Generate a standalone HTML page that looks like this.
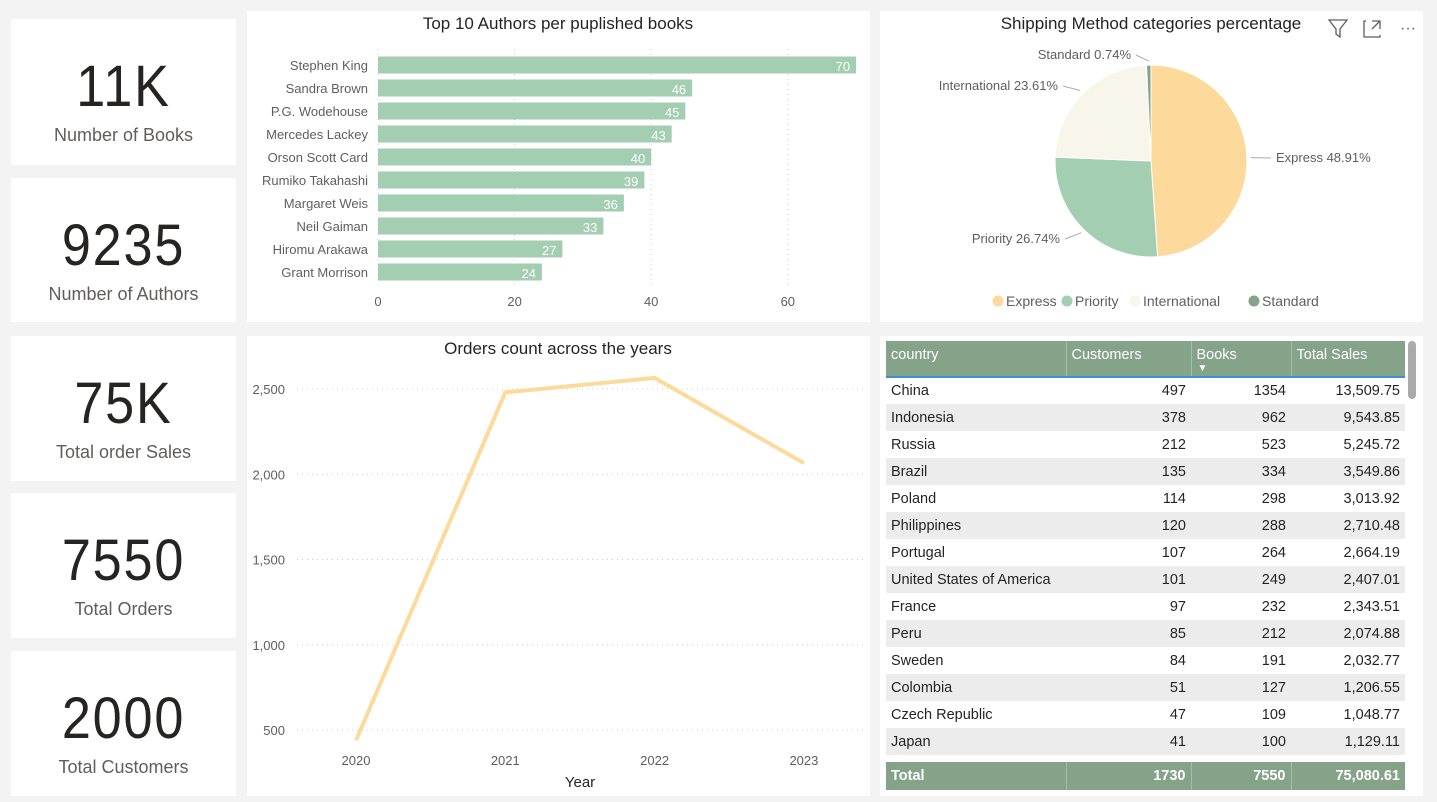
<!DOCTYPE html>
<html><head><meta charset="utf-8">
<style>
body{margin:0;width:1437px;height:802px;background:#f3f3f3;font-family:"Liberation Sans",sans-serif;overflow:hidden;position:relative}
.p{position:absolute;background:#fff}
.kpi .v{position:absolute;left:0;right:0;text-align:center;font-size:58px;color:#252423;letter-spacing:2px;transform:scaleX(0.9)}
.kpi .l{position:absolute;left:0;right:0;text-align:center;font-size:18px;color:#605e5c}
svg text{font-family:"Liberation Sans",sans-serif}
table{border-collapse:collapse;font-size:14.5px;color:#252423;table-layout:fixed}
td,th{overflow:hidden;white-space:nowrap}
</style></head><body>
<div class="p kpi" style="left:11px;top:19px;width:225px;height:146px"><div class="v" style="top:34px">11K</div><div class="l" style="top:106px">Number of Books</div></div>
<div class="p kpi" style="left:11px;top:178px;width:225px;height:144px"><div class="v" style="top:34px">9235</div><div class="l" style="top:106px">Number of Authors</div></div>
<div class="p kpi" style="left:11px;top:336px;width:225px;height:145px"><div class="v" style="top:34px">75K</div><div class="l" style="top:106px">Total order Sales</div></div>
<div class="p kpi" style="left:11px;top:493px;width:225px;height:145px"><div class="v" style="top:34px">7550</div><div class="l" style="top:106px">Total Orders</div></div>
<div class="p kpi" style="left:11px;top:651px;width:225px;height:145px"><div class="v" style="top:34px">2000</div><div class="l" style="top:106px">Total Customers</div></div>

<svg class="p" style="left:247px;top:11px" width="623" height="311" id="bar">
<text x="311" y="18" text-anchor="middle" font-size="17" fill="#252423">Top 10 Authors per puplished books</text>
</svg>
<svg class="p" style="left:880px;top:11px" width="543" height="311" id="pie">
<text x="271" y="18" text-anchor="middle" font-size="17" fill="#252423">Shipping Method categories percentage</text>
<g stroke="#605e5c" fill="none" stroke-width="1.3"><path d="M449 9h18l-7 9v8l-4-3v-5z"/><path d="M486 10h-2v16h16v-2M492 10h8v8M500 10l-8 8"/></g>
<text x="528" y="22" text-anchor="middle" font-size="16" fill="#605e5c">···</text>
</svg>
<svg class="p" style="left:247px;top:336px" width="623" height="460" id="line">
<text x="311" y="18" text-anchor="middle" font-size="17" fill="#252423">Orders count across the years</text>
<text x="333" y="451" text-anchor="middle" font-size="15" fill="#252423">Year</text>
</svg>

<div class="p" style="left:880px;top:336px;width:543px;height:460px">
<table id="tbl" style="position:absolute;left:6px;top:5px;width:519px">
<colgroup><col style="width:180px"><col style="width:125px"><col style="width:100px"><col style="width:114px"></colgroup>
<thead><tr style="background:#85a389;color:#fff;height:36px;vertical-align:top;border-bottom:2px solid #3d8fd6">
<th style="text-align:left;font-weight:normal;padding:6px 5px;border-right:1px solid #a5bfa8">country</th>
<th style="text-align:left;font-weight:normal;padding:6px 5px;border-right:1px solid #a5bfa8">Customers</th>
<th style="text-align:left;font-weight:normal;padding:6px 5px;border-right:1px solid #a5bfa8;position:relative">Books<span style="position:absolute;left:6px;top:22px;font-size:10px">▼</span></th>
<th style="text-align:left;font-weight:normal;padding:6px 5px">Total Sales</th></tr></thead>
<tbody id="tb"></tbody>
<tfoot><tr style="height:7px"><td colspan="4" style="padding:0"></td></tr><tr style="background:#85a389;color:#fff;font-weight:bold;height:28px">
<td style="padding:0 5px;border-right:1px solid #a5bfa8">Total</td><td style="text-align:right;padding:0 5px;border-right:1px solid #a5bfa8">1730</td><td style="text-align:right;padding:0 5px;border-right:1px solid #a5bfa8">7550</td><td style="text-align:right;padding:0 5px">75,080.61</td></tr></tfoot>
</table>
<div style="position:absolute;left:528px;top:5px;width:8px;height:58px;background:#aaa;border-radius:4px"></div>
</div>

<script>
const NS="http://www.w3.org/2000/svg";
function mk(p,t,a,txt){const e=document.createElementNS(NS,t);for(const k in a)e.setAttribute(k,a[k]);if(txt!==undefined)e.textContent=txt;p.appendChild(e);return e;}
// bar data
const authors=["Stephen King","Sandra Brown","P.G. Wodehouse","Mercedes Lackey","Orson Scott Card","Rumiko Takahashi","Margaret Weis","Neil Gaiman","Hiromu Arakawa","Grant Morrison"];
const books=[70,46,45,43,40,39,36,33,27,24];
const barTicks=[0,20,40,60];
const bar=document.getElementById('bar');
const bx=v=>131+v*6.83, by=i=>54+i*23;
barTicks.forEach(t=>{
 const l=mk(bar,'line',{x1:bx(t),x2:bx(t),y1:38,y2:275,stroke:'#ccc','stroke-dasharray':'1 4'});
 
 
 const tx=mk(bar,'text',{x:bx(t),y:295,'text-anchor':'middle','font-size':13,fill:'#605e5c'},t);
 
 
});
authors.forEach((a,i)=>{
 const lb=mk(bar,'text',{x:121,y:by(i)+5,'text-anchor':'end','font-size':13,fill:'#605e5c'},a);
 
 
 const r=mk(bar,'rect',{x:bx(0),y:by(i)-8.5,width:bx(books[i])-bx(0),height:17,fill:'#a3ceb1'});
 
 
 const v=mk(bar,'text',{x:bx(books[i])-6,y:by(i)+6,'text-anchor':'end','font-size':13,fill:'#fff'},books[i]);
 
 
});
// pie data
const methods=["Express","Priority","International","Standard"];
const shares=[48.91,26.74,23.61,0.74];
const pieColors=["#fdd99b","#a3ceb1","#f8f6ea","#85a389"];
const pie=document.getElementById('pie');
const cx=271,cy=150,R=96;
let acc=0;
const labelPos=[[396,151,'start'],[180,232,'end'],[178,79,'end'],[251,48,'end']];
shares.forEach((s,i)=>{
 const a0=acc/100*2*Math.PI, a1=(acc+s)/100*2*Math.PI; acc+=s;
 const p=(a)=>[cx+R*Math.sin(a),cy-R*Math.cos(a)];
 const [x0,y0]=p(a0),[x1,y1]=p(a1);
 const sl=mk(pie,'path',{d:`M${cx},${cy}L${x0},${y0}A${R},${R} 0 ${(a1-a0)>Math.PI?1:0} 1 ${x1},${y1}Z`,fill:pieColors[i],stroke:'#fff','stroke-width':1});
 
 
 const am=(a0+a1)/2,[mx,my]=[cx+(R+4)*Math.sin(am),cy-(R+4)*Math.cos(am)];
 const lp=labelPos[i];
 const ln=mk(pie,'polyline',{points:`${mx},${my} ${lp[0]+(lp[2]=='start'?-5:5)},${lp[1]-4}`,fill:'none',stroke:'#aaa'});
 
 
 const t=mk(pie,'text',{x:lp[0],y:lp[1],'text-anchor':lp[2],'font-size':13,fill:'#605e5c'},methods[i]+' '+s.toFixed(2)+'%');
 
 
});
const legX=[118,187,255,374];
methods.forEach((m,i)=>{
 const c=mk(pie,'circle',{cx:legX[i],cy:290,r:5.5,fill:pieColors[i]});
 
 
 const t=mk(pie,'text',{x:legX[i]+8,y:295,'font-size':14,fill:'#605e5c'},m);
 
 
});
// line data
const years=["2020","2021","2022","2023"];
const orders=[440,2480,2565,2065];
const yTicks=[500,1000,1500,2000,2500];
const line=document.getElementById('line');
const lx=i=>109+i*149.3, ly=v=>394-(v-500)*0.1705;
yTicks.forEach(t=>{
 const g=mk(line,'line',{x1:50,x2:620,y1:ly(t),y2:ly(t),stroke:'#ccc','stroke-dasharray':'1 4'});
 
 
 const tx=mk(line,'text',{x:38,y:ly(t)+5,'text-anchor':'end','font-size':13,fill:'#605e5c'},t.toLocaleString('en-US'));
 
 
});
years.forEach((y,i)=>{
 const tx=mk(line,'text',{x:lx(i),y:429,'text-anchor':'middle','font-size':13,fill:'#605e5c'},y);
 
 
});
const pl=mk(line,'polyline',{points:orders.map((v,i)=>lx(i)+','+ly(v)).join(' '),fill:'none',stroke:'#fdd99b','stroke-width':4,'stroke-linejoin':'round'});


// table data
const countries=["China","Indonesia","Russia","Brazil","Poland","Philippines","Portugal","United States of America","France","Peru","Sweden","Colombia","Czech Republic","Japan"];
const customers=[497,378,212,135,114,120,107,101,97,85,84,51,47,41];
const cBooks=[1354,962,523,334,298,288,264,249,232,212,191,127,109,100];
const sales=["13,509.75","9,543.85","5,245.72","3,549.86","3,013.92","2,710.48","2,664.19","2,407.01","2,343.51","2,074.88","2,032.77","1,206.55","1,048.77","1,129.11"];
const tb=document.getElementById('tb');
countries.forEach((c,i)=>{
 const tr=document.createElement('tr');
 
 
 tr.style.height='27px';tr.style.background=i%2?'#ececec':'#fff';
 tr.innerHTML=`<td style="padding:0 5px">${c}</td><td style="text-align:right;padding:0 5px">${customers[i]}</td><td style="text-align:right;padding:0 5px">${cBooks[i]}</td><td style="text-align:right;padding:0 5px">${sales[i]}</td>`;
 tb.appendChild(tr);
});
</script>
</body></html>
